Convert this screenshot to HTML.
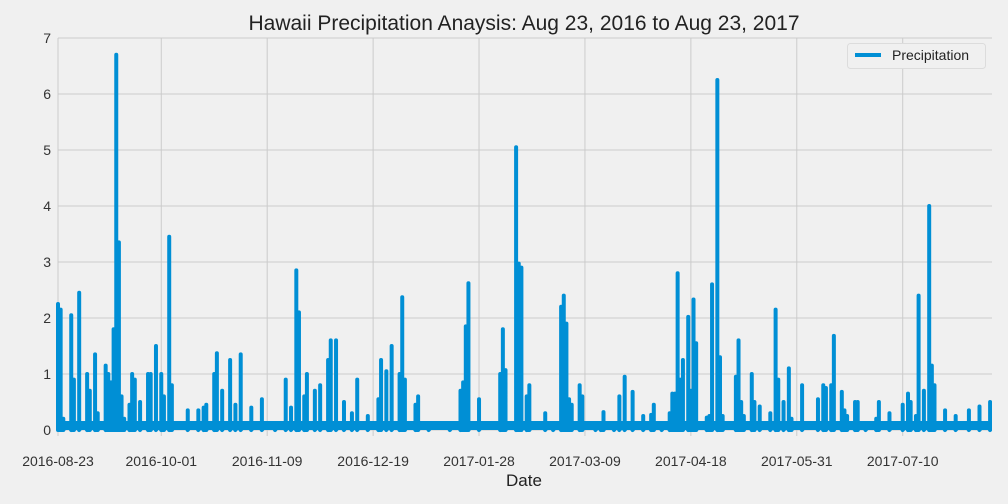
<!DOCTYPE html>
<html><head><meta charset="utf-8"><style>
html,body{margin:0;padding:0;background:#f0f0f0;}
svg{display:block;font-family:"Liberation Sans","DejaVu Sans",sans-serif;}
</style></head><body>
<svg id="chart" width="1008" height="504" viewBox="0 0 1008 504">
<rect x="0" y="0" width="1008" height="504" fill="#f0f0f0"/>
<text x="524" y="30" text-anchor="middle" font-size="21" fill="#222">Hawaii Precipitation Anaysis: Aug 23, 2016 to Aug 23, 2017</text>
<g id="grid"></g>
<g id="series" clip-path="url(#clip)"></g>
<defs><clipPath id="clip"><rect x="40" y="30" width="952" height="410"/></clipPath></defs>
<g id="axes"></g>
<text x="524" y="486" text-anchor="middle" font-size="17" fill="#222">Date</text>
<g>
<rect x="847.5" y="43.5" width="138" height="25" rx="3" fill="#f0f0f0" stroke="#dcdcdc"/>
<line x1="855" y1="55" x2="881" y2="55" stroke="#008fd5" stroke-width="4"/>
<text x="892" y="60" font-size="14" fill="#222">Precipitation</text>
</g>
</svg>
<script>
const spikeDays=[0,1,2,5,6,8,11,12,14,15,18,19,20,21,22,23,24,25,27,28,29,31,34,35,37,39,40,42,43,49,53,55,56,59,60,62,65,67,69,73,77,82,86,88,90,91,93,94,97,99,102,103,105,108,111,113,117,121,122,124,126,129,130,131,135,136,140,148,152,153,154,155,159,167,168,169,173,174,175,177,178,184,187,190,191,192,193,194,197,198,203,205,206,210,212,214,217,221,224,225,228,231,232,233,234,235,236,238,239,240,241,245,246,247,249,250,251,256,257,258,259,262,263,265,269,271,272,274,276,277,281,287,289,290,292,293,296,297,298,301,302,305,309,310,314,319,321,322,324,325,327,329,330,331,335,339,344,348,352];
const spikeVals=[2.25,2.15,0.2,2.05,0.9,2.45,1.0,0.7,1.35,0.3,1.15,1.0,0.85,1.8,6.7,3.35,0.6,0.2,0.45,1.0,0.9,0.5,1.0,1.0,1.5,1.0,0.6,3.45,0.8,0.35,0.35,0.4,0.45,1.0,1.37,0.7,1.25,0.45,1.35,0.4,0.55,0.1,0.9,0.4,2.85,2.1,0.6,1.0,0.7,0.8,1.25,1.6,1.6,0.5,0.3,0.9,0.25,0.55,1.25,1.05,1.5,1.0,2.37,0.9,0.45,0.6,0.05,0.07,0.7,0.85,1.85,2.62,0.55,1.0,1.8,1.07,5.05,2.97,2.9,0.6,0.8,0.3,0.12,2.2,2.4,1.9,0.55,0.45,0.8,0.6,0.05,0.1,0.32,0.1,0.6,0.95,0.68,0.25,0.27,0.45,0.1,0.3,0.65,0.65,2.8,0.9,1.25,2.02,0.7,2.33,1.55,0.22,0.25,2.6,6.25,1.3,0.25,0.95,1.6,0.5,0.25,1.0,0.5,0.42,0.3,2.15,0.9,0.5,1.1,0.2,0.8,0.55,0.8,0.75,0.8,1.68,0.68,0.35,0.25,0.5,0.5,0.1,0.2,0.5,0.3,0.45,0.65,0.5,0.25,2.4,0.7,4.0,1.15,0.8,0.35,0.25,0.35,0.42,0.5];
const yTicks=[0,1,2,3,4,5,6,7];
const xTickIdx=[0,39,79,119,159,199,239,279,319];
const xTickLabels=["2016-08-23","2016-10-01","2016-11-09","2016-12-19","2017-01-28","2017-03-09","2017-04-18","2017-05-31","2017-07-10"];
const lastDay=353;
const baseVal=0.07;

const NS="http://www.w3.org/2000/svg";
const X0=58,PX=2.648,Y0=430,PY=56;
const xs=d=>X0+d*PX, ys=v=>Y0-v*PY;
function mk(t,a,p){const e=document.createElementNS(NS,t);for(const k in a)e.setAttribute(k,a[k]);p.appendChild(e);return e;}
const grid=document.getElementById('grid'),axes=document.getElementById('axes'),series=document.getElementById('series');
yTicks.forEach(v=>{
  const l=mk('line',{x1:X0,x2:992,y1:ys(v),y2:ys(v),stroke:'#cbcbcb','stroke-width':1},grid);
  
  
  const t=mk('text',{x:51,y:ys(v)+5,'text-anchor':'end','font-size':14,fill:'#333'},axes);
  t.textContent=v;
  
  
});
xTickIdx.forEach((d,i)=>{
  const l=mk('line',{x1:xs(d),x2:xs(d),y1:38,y2:436,stroke:'#cbcbcb','stroke-width':1},grid);
  
  
  const t=mk('text',{x:xs(d),y:466,'text-anchor':'middle','font-size':14,fill:'#333'},axes);
  t.textContent=xTickLabels[i];
  
  
});
const map={};spikeDays.forEach((d,i)=>map[d]=spikeVals[i]);
let dstr='';
for(let d=0;d<=lastDay;d++){
  if(map[d]!==undefined){
    dstr+=(d===0?'M':'L')+xs(d)+' '+ys(0)+' L'+xs(d)+' '+ys(map[d])+' L'+xs(d)+' '+ys(0)+' ';
  } else {
    dstr+=(d===0?'M':'L')+xs(d)+' '+ys(baseVal)+' ';
  }
}
const base=mk('line',{x1:X0,x2:992,y1:ys(0.08),y2:ys(0.08),stroke:'#008fd5','stroke-width':9},series);


const p=mk('path',{d:dstr,fill:'none',stroke:'#008fd5','stroke-width':4,'stroke-linejoin':'round','stroke-linecap':'round'},series);


</script>
</body></html>
